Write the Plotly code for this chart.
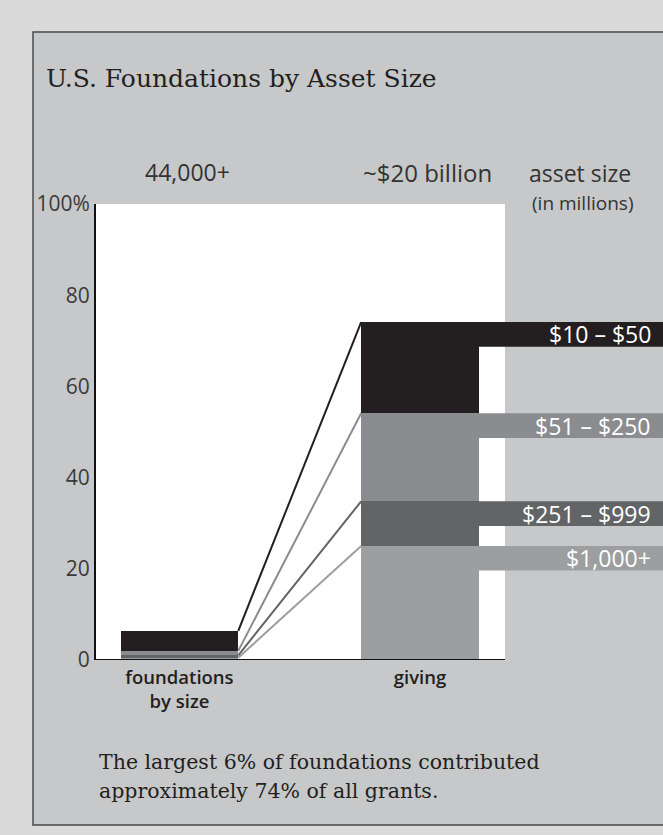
import plotly.graph_objects as go

# ---- data ----
segments = ["$10 – $50", "$51 – $250", "$251 – $999", "$1,000+"]
foundations_share = [4.4, 1.0, 0.5, 0.5]      # % of foundations
giving_share = [20.0, 19.3, 9.8, 25.0]         # % of all grants
seg_colors = ["#231f20", "#8b8c8f", "#636466", "#9d9ea0"]
categories = ["foundations<br>by size", "giving"]
header_labels = ["44,000+", "~$20 billion"]
y_ticks = [0, 20, 40, 60, 80, 100]
y_ticktext = ["0", "20", "40", "60", "80", "100%"]

# ---- layout constants (pixels) ----
W, H = 663, 835
ML, MR, MT, MB = 96, 0, 204, 175
PW, PH = W - ML - MR, H - MT - MB
SANS = "Open Sans"
SERIF = "DejaVu Serif"

def px_x(px):
    return (px - ML) / PW

def px_y(py):
    return (H - MB - py) / PH

XMIN, XMAX = -0.347, 2.0104
BAR_W = 0.489
WHITE_RIGHT = 1.3534
BAND_H = 5.4

xs = [0, 1]
fig = go.Figure()

# stacked bars (bottom = last segment)
order = list(range(len(segments)))[::-1]
for i in order:
    fig.add_trace(go.Bar(
        x=xs, y=[foundations_share[i], giving_share[i]],
        width=BAR_W, marker=dict(color=seg_colors[i], line=dict(width=0)),
        name=segments[i], showlegend=False, hoverinfo="skip"))

# cumulative tops
def cum_tops(vals):
    tops = [0] * len(vals)
    acc = 0
    for i in order:
        acc += vals[i]
        tops[i] = acc
    return tops

left_tops = cum_tops(foundations_share)
right_tops = cum_tops(giving_share)

# connecting lines
for i in order:
    fig.add_trace(go.Scatter(
        x=[xs[0] + BAR_W / 2, xs[1] - BAR_W / 2],
        y=[left_tops[i], right_tops[i]],
        mode="lines", line=dict(color=seg_colors[i], width=2),
        showlegend=False, hoverinfo="skip"))

shapes = []
# inner panel
shapes.append(dict(type="rect", xref="paper", yref="paper",
                   x0=px_x(33), x1=px_x(680), y0=px_y(825), y1=px_y(32),
                   fillcolor="#c7c8ca", line=dict(color="#4a4a4a", width=1.5),
                   layer="below"))
# white plotting field
shapes.append(dict(type="rect", xref="x", yref="y",
                   x0=XMIN, x1=WHITE_RIGHT, y0=0, y1=100,
                   fillcolor="white", line=dict(width=0), layer="below"))
# baseline
shapes.append(dict(type="line", xref="x", yref="y",
                   x0=XMIN, x1=WHITE_RIGHT, y0=0, y1=0,
                   line=dict(color="#111111", width=2)))
# legend bands
for i in range(len(segments)):
    shapes.append(dict(type="rect", xref="x", yref="y",
                       x0=xs[1] + BAR_W / 2, x1=XMAX + 0.1,
                       y0=right_tops[i] - BAND_H, y1=right_tops[i],
                       fillcolor=seg_colors[i], line=dict(width=0)))

annotations = []
for i in range(len(segments)):
    annotations.append(dict(
        xref="paper", yref="y", x=1, xshift=-10,
        y=right_tops[i] - BAND_H / 2, xanchor="right", yanchor="middle",
        text=segments[i], showarrow=False,
        font=dict(family=SANS, size=23, color="white")))

# headers
annotations.append(dict(xref="x", yref="paper", x=xs[0], xshift=8, y=px_y(172),
                        text=header_labels[0], showarrow=False, xanchor="center",
                        yanchor="middle", font=dict(family=SANS, size=23, color="#333333")))
annotations.append(dict(xref="x", yref="paper", x=xs[1], xshift=8, y=px_y(172),
                        text=header_labels[1], showarrow=False, xanchor="center",
                        yanchor="middle", font=dict(family=SANS, size=24, color="#333333")))
annotations.append(dict(xref="paper", yref="paper", x=px_x(580), y=px_y(173),
                        text="asset size", showarrow=False, xanchor="center",
                        yanchor="middle", font=dict(family=SANS, size=23, color="#333333")))
annotations.append(dict(xref="paper", yref="paper", x=px_x(583), y=px_y(203),
                        text="(in millions)", showarrow=False, xanchor="center",
                        yanchor="middle", font=dict(family=SANS, size=19, color="#333333")))
# title
annotations.append(dict(xref="paper", yref="paper", x=px_x(44), y=px_y(79),
                        text="U.S. Foundations by Asset Size", showarrow=False,
                        xanchor="left", yanchor="middle",
                        font=dict(family=SERIF, size=25, color="#231f20")))
# caption
annotations.append(dict(xref="paper", yref="paper", x=px_x(97), y=px_y(762),
                        text="The largest 6% of foundations contributed", showarrow=False,
                        xanchor="left", yanchor="middle",
                        font=dict(family=SERIF, size=20.5, color="#231f20")))
annotations.append(dict(xref="paper", yref="paper", x=px_x(97), y=px_y(791),
                        text="approximately 74% of all grants.", showarrow=False,
                        xanchor="left", yanchor="middle",
                        font=dict(family=SERIF, size=20.5, color="#231f20")))

fig.update_layout(
    width=W, height=H,
    margin=dict(l=ML, r=MR, t=MT, b=MB, pad=0),
    paper_bgcolor="#dadada",
    plot_bgcolor="rgba(0,0,0,0)",
    barmode="stack", bargap=0,
    showlegend=False,
    shapes=shapes, annotations=annotations,
    xaxis=dict(range=[XMIN, XMAX], tickvals=xs, ticktext=categories,
               showgrid=False, zeroline=False, showline=False, ticks="",
               ticklabelstandoff=4,
               tickfont=dict(family=SANS, size=18.5, color="#231f20", weight=600),
               fixedrange=True),
    yaxis=dict(range=[0, 100], tickvals=y_ticks, ticktext=y_ticktext,
               showgrid=False, zeroline=False, showline=True,
               linecolor="#111111", linewidth=2, ticks="",
               tickfont=dict(family=SANS, size=21, color="#3a3a3a"),
               fixedrange=True),
)

fig.write_html(
    "out.html",
    config={"displayModeBar": False},
    post_script="document.body.style.margin='0px';"
                "document.body.style.overflow='hidden';"
                "document.body.style.background='#dadada';",
)
